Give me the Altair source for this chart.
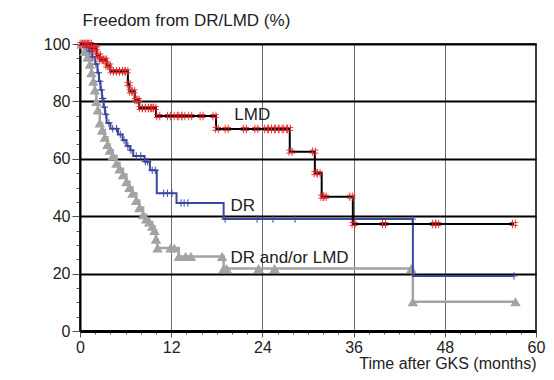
import altair as alt
import pandas as pd

FONT = "Liberation Sans"

# ---- Kaplan-Meier curves (step points) ----
lmd_t = [0, 1.5, 2.2, 2.6, 3.5, 4.0, 6.3, 6.5, 7.2, 7.8, 10.0, 17.9, 27.6, 30.9, 31.8, 35.9, 57.1]
lmd_v = [100, 98.5, 96, 94.5, 92.5, 90.5, 86, 83.5, 80.5, 77.7, 74.9, 70.4, 62.5, 55, 46.8, 37.3, 37.3]
lmd_cens = [0.2, 0.5, 0.8, 1.1, 1.3, 1.6, 1.9, 2.1, 2.3, 2.5, 2.8, 3.1, 3.3, 3.6, 3.8, 4.2, 4.6,
            5.0, 5.4, 5.8, 6.1, 6.4, 6.7, 7.0, 7.4, 7.6, 8.0, 8.4, 8.8, 9.2, 9.5, 9.8, 10.3,
            11.7, 12.6, 13.2, 13.6, 14.5, 16.0, 17.7, 18.0, 19.3, 21.7, 23.2, 24.5, 25.0, 25.4,
            25.9, 26.4, 27.0, 27.5, 27.7, 30.8, 31.0, 31.4, 31.9, 32.2, 35.7, 36.0, 40.0, 46.6,
            47.0, 57.1]

dr_t = [0, 0.8, 1.2, 1.6, 2.0, 2.3, 2.5, 2.7, 2.9, 3.1, 3.3, 3.5, 4.0, 5.0, 5.6, 6.1, 6.6,
        7.0, 8.5, 9.2, 10.1, 12.7, 18.9, 43.8, 57.1]
dr_v = [100, 99, 97.5, 95.5, 93, 90, 87, 84, 81, 78, 75.5, 72.5, 70.5, 68.5, 66.5, 64.5, 63,
        61, 59, 56, 48, 44.6, 39.0, 19.2, 19.2]
dr_cens = [0.9, 1.3, 1.7, 2.1, 2.4, 2.6, 2.8, 3.0, 3.2, 3.4, 3.8, 4.3, 4.8, 5.3, 5.8, 6.3, 6.7,
           7.4, 8.0, 8.6, 8.9, 9.5, 9.9, 11.0, 11.5, 12.1, 13.3, 13.7, 14.2, 19.1, 23.3, 25.4,
           28.3, 43.7, 57.1]

any_t = [0, 0.6, 1.0, 1.3, 1.5, 1.75, 1.95, 2.15, 2.35, 2.6, 2.9, 3.25, 3.6, 3.9, 4.3, 4.8,
         5.2, 5.65, 6.1, 6.5, 6.9, 7.4, 7.8, 8.3, 8.7, 9.1, 9.5, 9.8, 10.0, 10.2, 13.0, 18.9,
         43.8, 57.3]
any_v = [100, 97.5, 95.5, 93, 90, 87, 84, 80, 77, 72.5, 70, 67.5, 65, 63, 61, 58.5, 56.5, 54.5,
         52, 50, 48, 45.5, 43, 40.5, 39, 38, 36.5, 35, 32, 28.9, 26, 21.8, 10.2, 10.2]
any_marks = [0.2, 0.4, 0.6, 0.8, 1.0, 1.15, 1.3, 1.5, 1.75, 1.95, 2.15, 2.35, 2.6, 2.9, 3.25,
             3.6, 3.9, 4.3, 4.8, 5.2, 5.65, 6.1, 6.5, 6.9, 7.4, 7.8, 8.3, 8.7, 9.1, 9.5, 9.8,
             10.0, 10.2, 11.9, 12.4, 13.0, 13.9, 14.6, 18.7, 18.9, 19.3, 23.5, 25.6, 43.6,
             43.8, 57.3]

label_text = ["LMD", "DR", "DR and/or LMD"]
label_t = [20.3, 19.8, 19.8]
label_v = [75.3, 43.4, 25.6]

PLOT_W = 456
PLOT_H = 287


def level(ts, vs, t):
    out = vs[0]
    for ti, vi in zip(ts, vs):
        if ti <= t:
            out = vi
    return out


def curve_df(ts, vs):
    return pd.DataFrame({"t": ts, "v": vs})


def marks_df(ts, vs, marks):
    return pd.DataFrame({"t": marks, "v": [level(ts, vs, m) for m in marks]})


x_axis = alt.Axis(
    values=list(range(0, 61, 2)),
    labelExpr="datum.value % 12 === 0 ? datum.label : ''",
    labelOverlap=False,
    labelFlush=False,
    tickSize={"condition": {"test": "datum.value % 12 === 0", "value": 6}, "value": 3},
    tickColor="#555",
    grid=True,
    gridColor="#6e6e6e",
    gridWidth=1,
    gridOpacity={"condition": {"test": "datum.value % 12 === 0 && datum.value > 0 && datum.value < 60",
                               "value": 1}, "value": 0},
    domainColor="black",
    domainWidth=3,
    labelFontSize=16,
    labelColor="#222",
    labelPadding=2,
    title="Time after GKS (months)",
    titleFontSize=16,
    titleFontWeight="normal",
    titleColor="#222",
    titleAlign="right",
    titleX=PLOT_W,
    titleY=37,
    titleBaseline="alphabetic",
)

y_axis = alt.Axis(
    values=list(range(0, 101, 5)),
    labelExpr="datum.value % 20 === 0 ? datum.label : ''",
    labelOverlap=False,
    labelFlush=False,
    tickSize={"condition": {"test": "datum.value % 20 === 0", "value": 8}, "value": 4},
    tickColor="#555",
    grid=True,
    gridColor="black",
    gridWidth=2,
    gridOpacity={"condition": {"test": "datum.value % 20 === 0 && datum.value > 0", "value": 1},
                 "value": 0},
    domainColor="black",
    domainWidth=2,
    labelFontSize=16,
    labelColor="#222",
    labelPadding=2,
    title="Freedom from DR/LMD (%)",
    titleFontSize=17,
    titleFontWeight="normal",
    titleColor="#222",
    titleAngle=0,
    titleAlign="left",
    titleBaseline="middle",
    titleX=2,
    titleY=-24,
)


def enc(chart):
    return chart.encode(
        x=alt.X("t:Q", scale=alt.Scale(domain=[0, 60], nice=False), axis=x_axis),
        y=alt.Y("v:Q", scale=alt.Scale(domain=[0, 100], nice=False), axis=y_axis),
    )


GRAY = "#a3a3a3"
BLUE = "#3b48a0"
RED = "#e8262a"
HASH = "M-0.35,-1L-0.35,1M0.35,-1L0.35,1M-1,-0.35L1,-0.35M-1,0.35L1,0.35"
PLUS = "M-1,0L1,0M0,-1L0,1"

gray_line = enc(alt.Chart(curve_df(any_t, any_v)).mark_line(
    interpolate="step-after", color=GRAY, strokeWidth=2.5))
gray_pts = enc(alt.Chart(marks_df(any_t, any_v, any_marks)).mark_point(
    shape="triangle-up", filled=True, size=110, color=GRAY, opacity=1))
blue_line = enc(alt.Chart(curve_df(dr_t, dr_v)).mark_line(
    interpolate="step-after", color=BLUE, strokeWidth=2))
blue_pts = enc(alt.Chart(marks_df(dr_t, dr_v, dr_cens)).mark_point(
    shape=PLUS, size=55, color=BLUE, strokeWidth=1, opacity=1))
black_line = enc(alt.Chart(curve_df(lmd_t, lmd_v)).mark_line(
    interpolate="step-after", color="black", strokeWidth=2))
red_pts = enc(alt.Chart(marks_df(lmd_t, lmd_v, lmd_cens)).mark_point(
    shape=HASH, size=72, color=RED, strokeWidth=0.9, opacity=1))
labels = enc(alt.Chart(pd.DataFrame({"t": label_t, "v": label_v, "label": label_text})).mark_text(
    align="left", baseline="middle", fontSize=17, font=FONT, color="#222")).encode(text="label:N")

chart = alt.layer(
    gray_line, gray_pts, blue_line, blue_pts, black_line, red_pts, labels
).properties(
    width=PLOT_W,
    height=PLOT_H,
    autosize=alt.AutoSizeParams(type="none"),
    padding={"left": 72, "top": 36, "right": 10, "bottom": 41},
    background="white",
).configure_axis(
    labelFont=FONT,
    titleFont=FONT,
).configure_view(
    stroke="black",
    strokeWidth=1.5,
)

chart.save("out.html", embed_options={"renderer": "svg", "actions": False})
